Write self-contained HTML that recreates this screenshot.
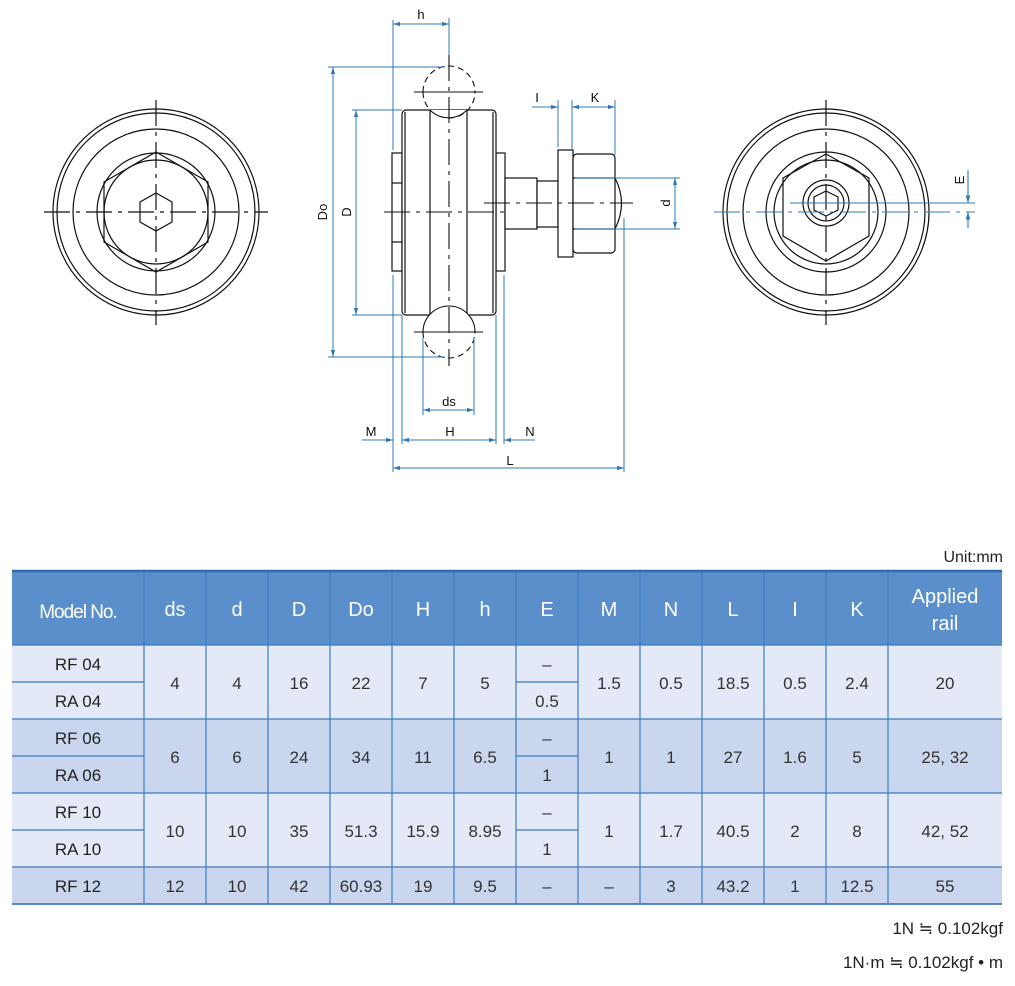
<!DOCTYPE html>
<html><head><meta charset="utf-8"><style>
html,body{margin:0;padding:0;background:#fff;width:1015px;height:986px;overflow:hidden}
svg{display:block}
.t{font-family:"Liberation Sans",sans-serif}
</style></head><body>
<svg width="1015" height="986" viewBox="0 0 1015 986" xmlns="http://www.w3.org/2000/svg" class="t">
<defs>
<marker id="a" viewBox="0 0 10 10" refX="10" refY="5" markerWidth="7" markerHeight="7" orient="auto-start-reverse"><path d="M0,2 L10,5 L0,8 z" fill="#2f78b8"/></marker>
</defs>
<!-- LEFT VIEW -->
<g fill="none" stroke="#111" stroke-width="1.2">
<circle cx="156" cy="212" r="103"/><circle cx="156" cy="212" r="99"/><circle cx="156" cy="212" r="83"/><circle cx="156" cy="212" r="59"/><circle cx="156" cy="212" r="52"/>
<polygon points="156,152 208,182 208,242 156,272 104,242 104,182"/>
<polygon points="156,193 172,202 172,222 156,231 140,222 140,202"/>
<line x1="44" y1="212" x2="268" y2="212" stroke-dasharray="26,6,4,6"/>
<line x1="156" y1="100" x2="156" y2="325" stroke-dasharray="26,6,4,6"/>
</g>
<!-- RIGHT VIEW -->
<g fill="none" stroke="#111" stroke-width="1.2">
<circle cx="826" cy="212" r="103"/><circle cx="826" cy="212" r="99"/><circle cx="826" cy="212" r="83"/><circle cx="826" cy="212" r="60"/><circle cx="826" cy="212" r="52"/>
<polygon points="826,154 869,178 869,236 826,261 783,236 783,178"/>
<circle cx="826" cy="203" r="23"/><circle cx="826" cy="203" r="18"/>
<polygon points="826,191 838,197 838,210 826,216 814,210 814,197"/>
<line x1="826" y1="100" x2="826" y2="325" stroke-dasharray="26,6,4,6"/>
</g>
<g stroke="#2f78b8" stroke-width="1.1" fill="none">
<line x1="714" y1="212" x2="975" y2="212" stroke-dasharray="26,6,4,6"/>
<line x1="790" y1="203" x2="975" y2="203"/>
<line x1="968" y1="170" x2="968" y2="203" marker-end="url(#a)"/>
<line x1="968" y1="228" x2="968" y2="212" marker-end="url(#a)"/>
</g>
<text x="0" y="0" font-size="13" fill="#111" transform="translate(964,180) rotate(-90)" text-anchor="middle">E</text>
<!-- MIDDLE VIEW -->
<g fill="#fff" stroke="#111" stroke-width="1.2">
<rect x="392" y="153" width="10" height="118"/>
<line x1="392" y1="183" x2="402" y2="183"/><line x1="392" y1="242" x2="402" y2="242"/>
<rect x="496" y="153" width="9" height="118"/>
<rect x="505" y="178" width="32" height="51"/>
<rect x="537" y="181" width="21" height="46"/>
<path d="M615,178 Q628,203 615,229" />
<rect x="558" y="150" width="15" height="107"/>
<rect x="573" y="154" width="42" height="99" rx="4"/>
<line x1="573" y1="178" x2="615" y2="178"/><line x1="573" y1="229" x2="615" y2="229"/>
<rect x="402" y="110" width="94" height="205" rx="4"/>
<line x1="405" y1="112" x2="405" y2="313"/><line x1="493" y1="112" x2="493" y2="313"/>
<line x1="430" y1="110" x2="430" y2="315"/><line x1="467" y1="110" x2="467" y2="315"/>
</g>
<g fill="none" stroke="#111" stroke-width="1.1">
<path d="M423,92 A26,26 0 0 1 475,92" stroke-dasharray="6,4"/>
<path d="M423,92 A26,26 0 0 0 475,92" stroke-dasharray="6,4"/>
<path d="M430,110 A26,26 0 0 0 467,110" fill="#fff"/>
<line x1="414" y1="92" x2="483" y2="92"/>
<path d="M423,332 A26,26 0 0 1 475,332" fill="#fff"/>
<path d="M423,332 A26,26 0 0 0 475,332" stroke-dasharray="6,4"/>
<line x1="414" y1="332" x2="483" y2="332"/>
<line x1="449" y1="55" x2="449" y2="366" stroke-dasharray="26,6,4,6"/>
<line x1="384" y1="212" x2="510" y2="212" stroke-dasharray="26,6,4,6"/>
<line x1="484" y1="203" x2="633" y2="203" stroke-dasharray="26,6,4,6"/>
</g>
<!-- dimensions -->
<g stroke="#2f78b8" stroke-width="1" fill="none">
<line x1="393" y1="20" x2="393" y2="150"/><line x1="393" y1="275" x2="393" y2="472"/>
<line x1="449" y1="18" x2="449" y2="55"/>
<line x1="393" y1="24" x2="449" y2="24" marker-start="url(#a)" marker-end="url(#a)"/>
<line x1="328" y1="67" x2="445" y2="67"/><line x1="328" y1="357" x2="445" y2="357"/>
<line x1="333" y1="67" x2="333" y2="357" marker-start="url(#a)" marker-end="url(#a)"/>
<line x1="352" y1="110" x2="402" y2="110"/><line x1="352" y1="315" x2="402" y2="315"/>
<line x1="356" y1="110" x2="356" y2="315" marker-start="url(#a)" marker-end="url(#a)"/>
<line x1="423" y1="337" x2="423" y2="415"/><line x1="474" y1="337" x2="474" y2="415"/>
<line x1="423" y1="410" x2="474" y2="410" marker-start="url(#a)" marker-end="url(#a)"/>
<line x1="402" y1="315" x2="402" y2="444"/><line x1="496" y1="315" x2="496" y2="444"/><line x1="504" y1="275" x2="504" y2="444"/>
<line x1="362" y1="440" x2="393" y2="440" marker-end="url(#a)"/>
<line x1="402" y1="440" x2="496" y2="440" marker-start="url(#a)" marker-end="url(#a)"/>
<line x1="535" y1="440" x2="504" y2="440" marker-end="url(#a)"/>
<line x1="624" y1="218" x2="624" y2="472"/>
<line x1="393" y1="468" x2="624" y2="468" marker-start="url(#a)" marker-end="url(#a)"/>
<line x1="558" y1="100" x2="558" y2="147"/><line x1="572" y1="100" x2="572" y2="150"/><line x1="615" y1="100" x2="615" y2="155"/>
<line x1="532" y1="107" x2="558" y2="107" marker-end="url(#a)"/>
<line x1="572" y1="107" x2="615" y2="107" marker-start="url(#a)" marker-end="url(#a)"/>
<line x1="575" y1="178" x2="680" y2="178"/><line x1="575" y1="229" x2="680" y2="229"/>
<line x1="675" y1="178" x2="675" y2="229" marker-start="url(#a)" marker-end="url(#a)"/>
</g>
<g font-size="13" fill="#111" text-anchor="middle">
<text x="421" y="19">h</text>
<text transform="translate(327,212) rotate(-90)">Do</text>
<text transform="translate(351,212) rotate(-90)">D</text>
<text x="449" y="406">ds</text>
<text x="371" y="436">M</text><text x="450" y="436">H</text><text x="530" y="436">N</text>
<text x="510" y="465">L</text>
<text x="537" y="102">I</text><text x="595" y="102">K</text>
<text transform="translate(670,203) rotate(-90)">d</text>
</g>
<!-- TABLE -->
<text x="1003" y="562" font-size="16" fill="#222" text-anchor="end">Unit:mm</text>
<rect x="12" y="571" width="990" height="74" fill="#5a8fcc"/>
<rect x="12" y="645" width="990" height="74" fill="#e3e9f6"/>
<rect x="12" y="719" width="990" height="74" fill="#c9d6ee"/>
<rect x="12" y="793" width="990" height="74" fill="#e3e9f6"/>
<rect x="12" y="867" width="990" height="37" fill="#c9d6ee"/>
<g stroke="#3d7cc0" stroke-width="1.2">
<line x1="12" y1="571" x2="1002" y2="571" stroke-width="2.5" stroke="#2e6aad"/>
<line x1="12" y1="645" x2="1002" y2="645"/>
<line x1="12" y1="719" x2="1002" y2="719"/>
<line x1="12" y1="793" x2="1002" y2="793"/>
<line x1="12" y1="867" x2="1002" y2="867"/>
<line x1="12" y1="904" x2="1002" y2="904" stroke-width="1.8"/>
<line x1="12" y1="682" x2="144" y2="682"/><line x1="12" y1="756" x2="144" y2="756"/><line x1="12" y1="830" x2="144" y2="830"/>
<line x1="516" y1="682" x2="578" y2="682"/><line x1="516" y1="756" x2="578" y2="756"/><line x1="516" y1="830" x2="578" y2="830"/>
<line x1="144" y1="571" x2="144" y2="904"/><line x1="206" y1="571" x2="206" y2="904"/><line x1="268" y1="571" x2="268" y2="904"/><line x1="330" y1="571" x2="330" y2="904"/><line x1="392" y1="571" x2="392" y2="904"/><line x1="454" y1="571" x2="454" y2="904"/><line x1="516" y1="571" x2="516" y2="904"/><line x1="578" y1="571" x2="578" y2="904"/><line x1="640" y1="571" x2="640" y2="904"/><line x1="702" y1="571" x2="702" y2="904"/><line x1="764" y1="571" x2="764" y2="904"/><line x1="826" y1="571" x2="826" y2="904"/><line x1="888" y1="571" x2="888" y2="904"/>
</g>
<g font-size="20" fill="#fff" text-anchor="middle">
<text x="78" y="618" font-size="19" letter-spacing="-1">Model No.</text>
<text x="175" y="616">ds</text><text x="237" y="616">d</text><text x="299" y="616">D</text><text x="361" y="616">Do</text><text x="423" y="616">H</text><text x="485" y="616">h</text><text x="547" y="616">E</text><text x="609" y="616">M</text><text x="671" y="616">N</text><text x="733" y="616">L</text><text x="795" y="616">I</text><text x="857" y="616">K</text>
<text x="945" y="603">Applied</text><text x="945" y="630">rail</text>
</g>
<g font-size="17" fill="#222" text-anchor="middle">
<text x="78" y="670">RF 04</text><text x="78" y="707">RA 04</text>
<text x="78" y="744">RF 06</text><text x="78" y="781">RA 06</text>
<text x="78" y="818">RF 10</text><text x="78" y="855">RA 10</text>
<text x="78" y="892">RF 12</text>
</g>
<g font-size="17" fill="#333" text-anchor="middle">
<text x="175" y="689">4</text><text x="237" y="689">4</text><text x="299" y="689">16</text><text x="361" y="689">22</text><text x="423" y="689">7</text><text x="485" y="689">5</text><text x="547" y="670">–</text><text x="547" y="707">0.5</text><text x="609" y="689">1.5</text><text x="671" y="689">0.5</text><text x="733" y="689">18.5</text><text x="795" y="689">0.5</text><text x="857" y="689">2.4</text><text x="945" y="689">20</text>
<text x="175" y="763">6</text><text x="237" y="763">6</text><text x="299" y="763">24</text><text x="361" y="763">34</text><text x="423" y="763">11</text><text x="485" y="763">6.5</text><text x="547" y="744">–</text><text x="547" y="781">1</text><text x="609" y="763">1</text><text x="671" y="763">1</text><text x="733" y="763">27</text><text x="795" y="763">1.6</text><text x="857" y="763">5</text><text x="945" y="763">25, 32</text>
<text x="175" y="837">10</text><text x="237" y="837">10</text><text x="299" y="837">35</text><text x="361" y="837">51.3</text><text x="423" y="837">15.9</text><text x="485" y="837">8.95</text><text x="547" y="818">–</text><text x="547" y="855">1</text><text x="609" y="837">1</text><text x="671" y="837">1.7</text><text x="733" y="837">40.5</text><text x="795" y="837">2</text><text x="857" y="837">8</text><text x="945" y="837">42, 52</text>
<text x="175" y="892">12</text><text x="237" y="892">10</text><text x="299" y="892">42</text><text x="361" y="892">60.93</text><text x="423" y="892">19</text><text x="485" y="892">9.5</text><text x="547" y="892">–</text><text x="609" y="892">–</text><text x="671" y="892">3</text><text x="733" y="892">43.2</text><text x="795" y="892">1</text><text x="857" y="892">12.5</text><text x="945" y="892">55</text>
</g>
<g font-size="17" fill="#222" text-anchor="end" font-family="Liberation Sans, DejaVu Sans, sans-serif">
<text x="1003" y="934">1N ≒ 0.102kgf</text>
<text x="1003" y="968">1N·m ≒ 0.102kgf • m</text>
</g>
</svg>
</body></html>
